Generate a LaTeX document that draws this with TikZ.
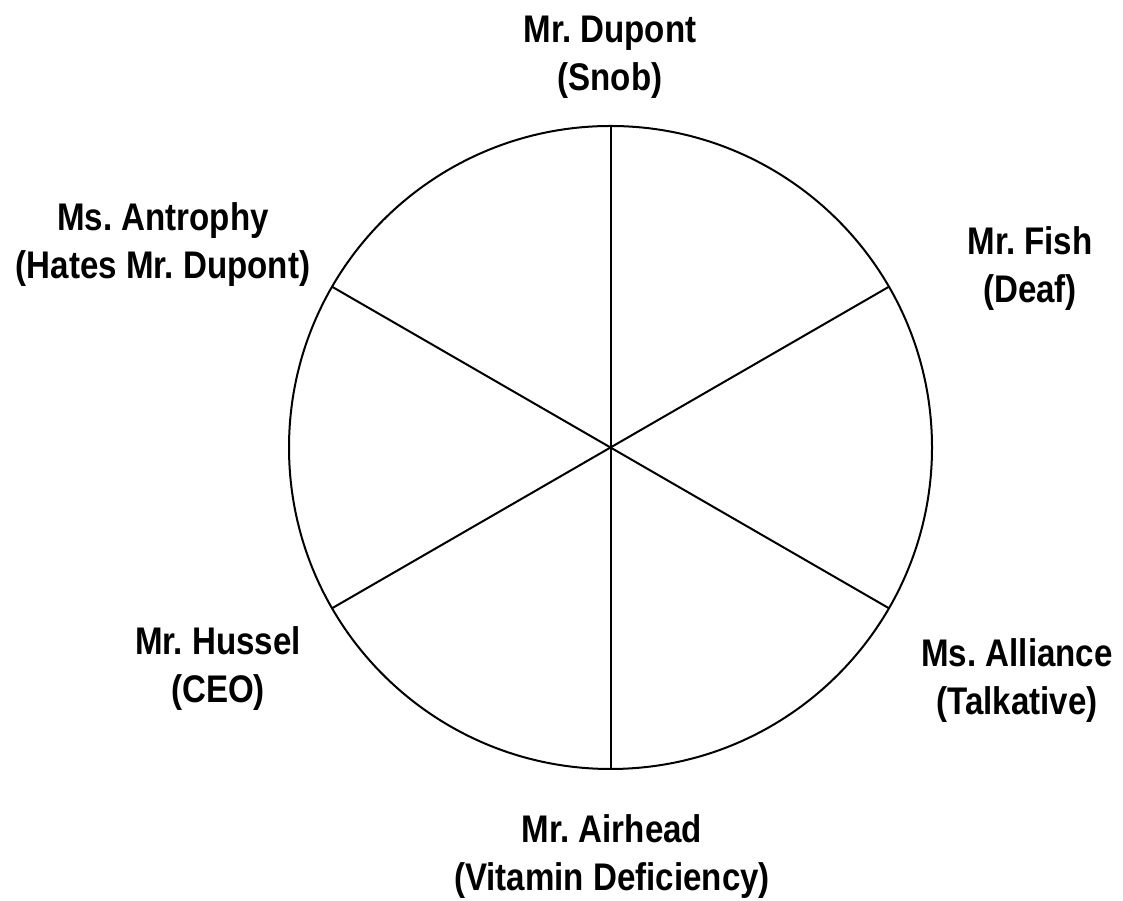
\documentclass[tikz,border=0pt]{standalone}
\usepackage{fontspec}
\setmainfont[FakeStretch=0.86]{Liberation Sans}
\usetikzlibrary{calc}
\frenchspacing
\begin{document}
\begin{tikzpicture}[x=1pt,y=1pt,
  lbl/.style={align=center,anchor=base,inner sep=0pt,
    font=\fontsize{38.5}{48}\selectfont\bfseries\frenchspacing},
  wheel/.style={line width=2pt,black}]
\useasboundingbox (0,0) rectangle (1123,901);
\coordinate (c) at (610.5,453.5);
\draw[wheel] (c) circle (321.5);
\foreach \a/\n in {90/p1,30/p2,-30/p3,-90/p4,-150/p5,150/p6}{
  \coordinate (\n) at ($(c)+(\a:321.5)$);
  \draw[wheel] (c) -- (\n);
}
\node[lbl] (dupont) at (610,810) {Mr. Dupont\\(Snob)};
\node[lbl] (antrophy) at (163,622) {Ms. Antrophy\\(Hates Mr. Dupont)};
\node[lbl] (fish) at (1030,598) {Mr. Fish\\(Deaf)};
\node[lbl] (alliance) at (1017,186) {Ms. Alliance\\(Talkative)};
\node[lbl] (hussel) at (218,198) {Mr. Hussel\\(CEO)};
\node[lbl] (airhead) at (612,10) {Mr. Airhead\\(Vitamin Deficiency)};
\end{tikzpicture}
\end{document}
